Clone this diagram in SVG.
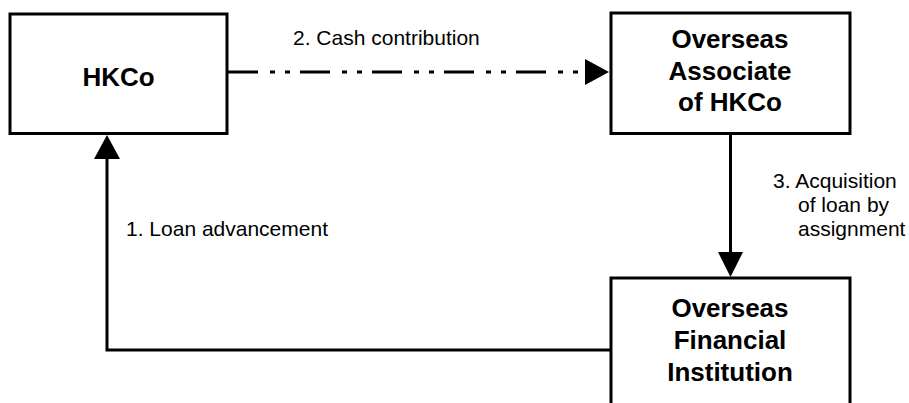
<svg xmlns="http://www.w3.org/2000/svg" width="909" height="403" viewBox="0 0 909 403">
<style>
.box{fill:#fff;stroke:#000;stroke-width:3}
.title{font-family:"Liberation Sans",Arial,sans-serif;font-weight:bold;font-size:26px;fill:#000;text-anchor:middle}
.lbl{font-family:"Liberation Sans",Arial,sans-serif;font-size:21px;fill:#000}
.conn{fill:none;stroke:#000;stroke-width:3}
.dash{stroke-dasharray:30 12 5 10 5 10}
.head{fill:#000;stroke:none}
</style>
<rect width="909" height="403" fill="#fff"/>
<g id="connectors">
  <line class="conn dash" x1="228" y1="72" x2="586" y2="72"/>
  <polygon class="head" points="585,59 585,85 609,72"/>
  <line class="conn" x1="730.5" y1="134" x2="730.5" y2="253"/>
  <polygon class="head" points="718,252 743,252 730.5,277"/>
  <polyline class="conn" points="611,350 107,350 107,158"/>
  <polygon class="head" points="94,159 120,159 107,135"/>
  <text class="lbl" x="293" y="45">2. Cash contribution</text>
  <text class="lbl" x="773" y="188">3. Acquisition</text>
  <text class="lbl" x="798" y="212">of loan by</text>
  <text class="lbl" x="798" y="236">assignment</text>
  <text class="lbl" x="126" y="236">1. Loan advancement</text>
</g>
<g id="hkco">
  <rect class="box" x="10" y="14" width="217" height="119.5"/>
  <text class="title" x="118.5" y="86">HKCo</text>
</g>
<g id="associate">
  <rect class="box" x="611" y="13" width="239" height="120.5"/>
  <text class="title" x="730" y="48">Overseas</text>
  <text class="title" x="730" y="80">Associate</text>
  <text class="title" x="730" y="111">of HKCo</text>
</g>
<g id="financial">
  <rect class="box" x="611" y="278" width="239" height="140"/>
  <text class="title" x="730" y="317">Overseas</text>
  <text class="title" x="730" y="349">Financial</text>
  <text class="title" x="730" y="381">Institution</text>
</g>
</svg>
